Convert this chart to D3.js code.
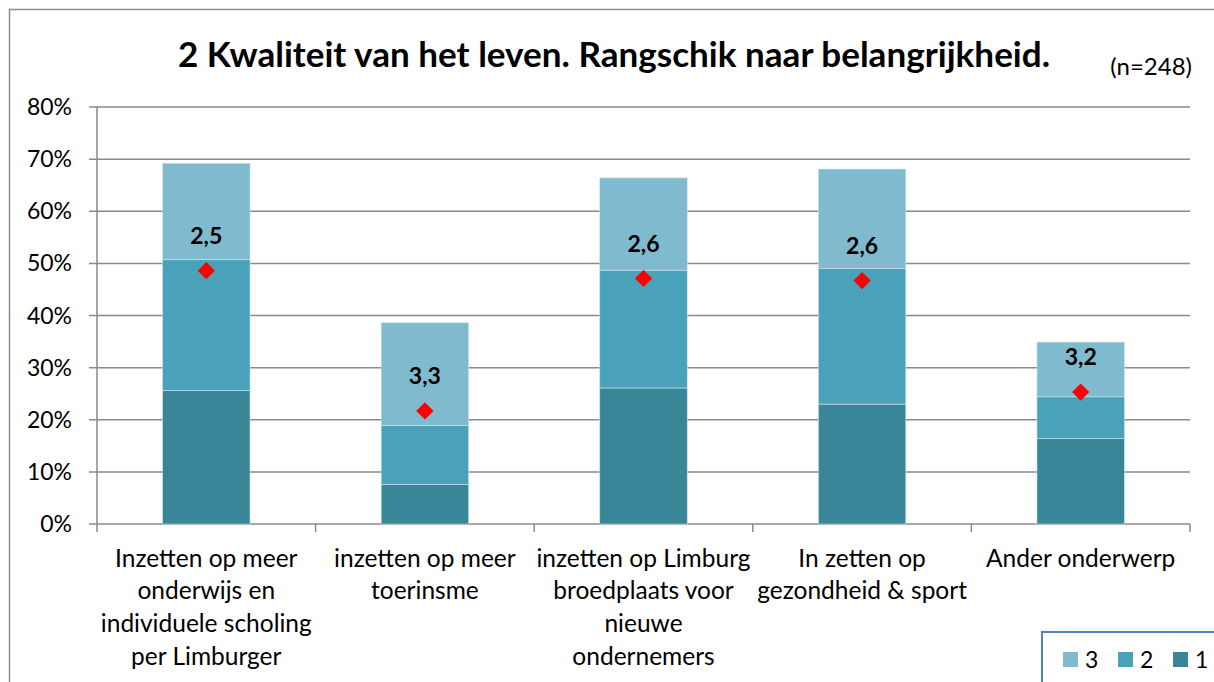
<!DOCTYPE html>
<html>
<head>
<meta charset="utf-8">
<script src="https://cdn.jsdelivr.net/npm/d3@7"></script>
<style>
  body { margin: 0; background: #fff; }
  svg { display: block; font-family: Lato, "Open Sans", sans-serif; }
</style>
</head>
<body>
<div id="chart"></div>
<script>
const width = 1214;
const height = 682;

// data
const categories = [
  ["Inzetten op meer", "onderwijs en", "individuele scholing", "per Limburger"],
  ["inzetten op meer", "toerinsme"],
  ["inzetten op Limburg", "broedplaats voor", "nieuwe", "ondernemers"],
  ["In zetten op", "gezondheid & sport"],
  ["Ander onderwerp"]
];
const rank1 = [25.6, 7.6, 26.1, 23.0, 16.4];
const rank2 = [25.1, 11.3, 22.6, 26.0, 8.0];
const rank3 = [18.5, 19.7, 17.7, 19.1, 10.5];
const avgMarker = [48.6, 21.7, 47.1, 46.7, 25.3];
const avgLabels = ["2,5", "3,3", "2,6", "2,6", "3,2"];
const yTicks = [0, 10, 20, 30, 40, 50, 60, 70, 80];
const seriesNames = ["1", "2", "3"];

const colors = { "1": "#3a8699", "2": "#4aa2ba", "3": "#7fbacf" };

const margin = { top: 107, right: 24, bottom: 158, left: 97 };

const svg = d3.select("#chart").append("svg")
  .attr("width", width)
  .attr("height", height);

// chart border
svg.append("path")
  .attr("d", `M9.5,${height} V9.5 H${width}`)
  .attr("fill", "none")
  .attr("stroke", "#8c8c8c")
  .attr("stroke-width", 1.5);

const x = d3.scaleBand()
  .domain(d3.range(categories.length))
  .range([margin.left, width - margin.right])
  .paddingInner(0.6)
  .paddingOuter(0.3);

const y = d3.scaleLinear()
  .domain([0, 80])
  .range([height - margin.bottom, margin.top]);

// gridlines
svg.append("g")
  .selectAll("line")
  .data(yTicks)
  .join("line")
  .attr("x1", margin.left - 8)
  .attr("x2", width - margin.right)
  .attr("y1", d => y(d))
  .attr("y2", d => y(d))
  .attr("stroke", "#8a8a8a")
  .attr("stroke-width", 1.5);

// y axis line
svg.append("line")
  .attr("x1", margin.left).attr("x2", margin.left)
  .attr("y1", y(80)).attr("y2", y(0))
  .attr("stroke", "#8a8a8a")
  .attr("stroke-width", 1.5);

// y labels
svg.append("g")
  .selectAll("text")
  .data(yTicks)
  .join("text")
  .attr("x", margin.left - 25)
  .attr("y", d => y(d))
  .attr("dy", "0.35em")
  .attr("text-anchor", "end")
  .attr("font-size", "23px")
  .attr("fill", "#000")
  .text(d => d + "%");

// category ticks on x axis
const plotW = width - margin.right - margin.left;
svg.append("g")
  .selectAll("line")
  .data(d3.range(categories.length + 1))
  .join("line")
  .attr("x1", i => margin.left + i * plotW / categories.length)
  .attr("x2", i => margin.left + i * plotW / categories.length)
  .attr("y1", y(0))
  .attr("y2", y(0) + 8)
  .attr("stroke", "#8a8a8a")
  .attr("stroke-width", 1.5);

// stacked bars
const table = categories.map((c, i) => ({ i, "1": rank1[i], "2": rank2[i], "3": rank3[i] }));
const stack = d3.stack().keys(seriesNames)(table);

svg.append("g")
  .selectAll("g")
  .data(stack)
  .join("g")
  .attr("fill", d => colors[d.key])
  .selectAll("rect")
  .data(d => d)
  .join("rect")
  .attr("x", d => x(d.data.i))
  .attr("y", d => y(d[1]))
  .attr("width", x.bandwidth())
  .attr("height", d => y(d[0]) - y(d[1]))
  .attr("stroke", "#c9e3ec")
  .attr("stroke-width", 0.6);

// average markers
svg.append("g")
  .selectAll("path")
  .data(avgMarker)
  .join("path")
  .attr("d", d3.symbol().type(d3.symbolDiamond2 || d3.symbolDiamond).size(190))
  .attr("transform", (d, i) => `translate(${x(i) + x.bandwidth() / 2},${y(d)})`)
  .attr("fill", "#ff0000");

svg.append("g")
  .selectAll("text")
  .data(avgMarker)
  .join("text")
  .attr("x", (d, i) => x(i) + x.bandwidth() / 2)
  .attr("y", d => y(d) - 35)
  .attr("dy", "0.35em")
  .attr("text-anchor", "middle")
  .attr("font-size", "23px")
  .attr("font-weight", "bold")
  .attr("fill", "#000")
  .text((d, i) => avgLabels[i]);

// category labels
const catLabels = svg.append("g")
  .selectAll("text")
  .data(categories)
  .join("text")
  .attr("x", (d, i) => x(i) + x.bandwidth() / 2)
  .attr("y", 558)
  .attr("text-anchor", "middle")
  .attr("font-size", "24.5px")
  .attr("fill", "#000");

catLabels.selectAll("tspan")
  .data(d => d)
  .join("tspan")
  .attr("x", function() { return d3.select(this.parentNode).attr("x"); })
  .attr("dy", (d, j) => j === 0 ? "0.35em" : "32.7px")
  .text(d => d);

// title
svg.append("text")
  .attr("x", 614)
  .attr("y", 55)
  .attr("dy", "0.35em")
  .attr("text-anchor", "middle")
  .attr("font-size", "34px")
  .attr("font-weight", "bold")
  .attr("fill", "#000")
  .attr("textLength", 872)
  .attr("lengthAdjust", "spacingAndGlyphs")
  .text("2 Kwaliteit van het leven. Rangschik naar belangrijkheid.");

svg.append("text")
  .attr("x", 1192)
  .attr("y", 67)
  .attr("dy", "0.35em")
  .attr("text-anchor", "end")
  .attr("font-size", "24px")
  .attr("fill", "#000")
  .text("(n=248)");

// legend
const legend = svg.append("g").attr("transform", "translate(1042,632)");
legend.append("rect")
  .attr("x", 0).attr("y", 0)
  .attr("width", 200).attr("height", 70)
  .attr("fill", "#fff")
  .attr("stroke", "#4f81bd")
  .attr("stroke-width", 2);

const legendItems = legend.selectAll("g.item")
  .data(["3", "2", "1"])
  .join("g")
  .attr("class", "item")
  .attr("transform", (d, i) => `translate(${21 + i * 55},20)`);

legendItems.append("rect")
  .attr("width", 15).attr("height", 15)
  .attr("fill", d => colors[d]);

legendItems.append("text")
  .attr("x", 22)
  .attr("y", 7.5)
  .attr("dy", "0.35em")
  .attr("font-size", "23px")
  .attr("fill", "#000")
  .text(d => d);
</script>
</body>
</html>
